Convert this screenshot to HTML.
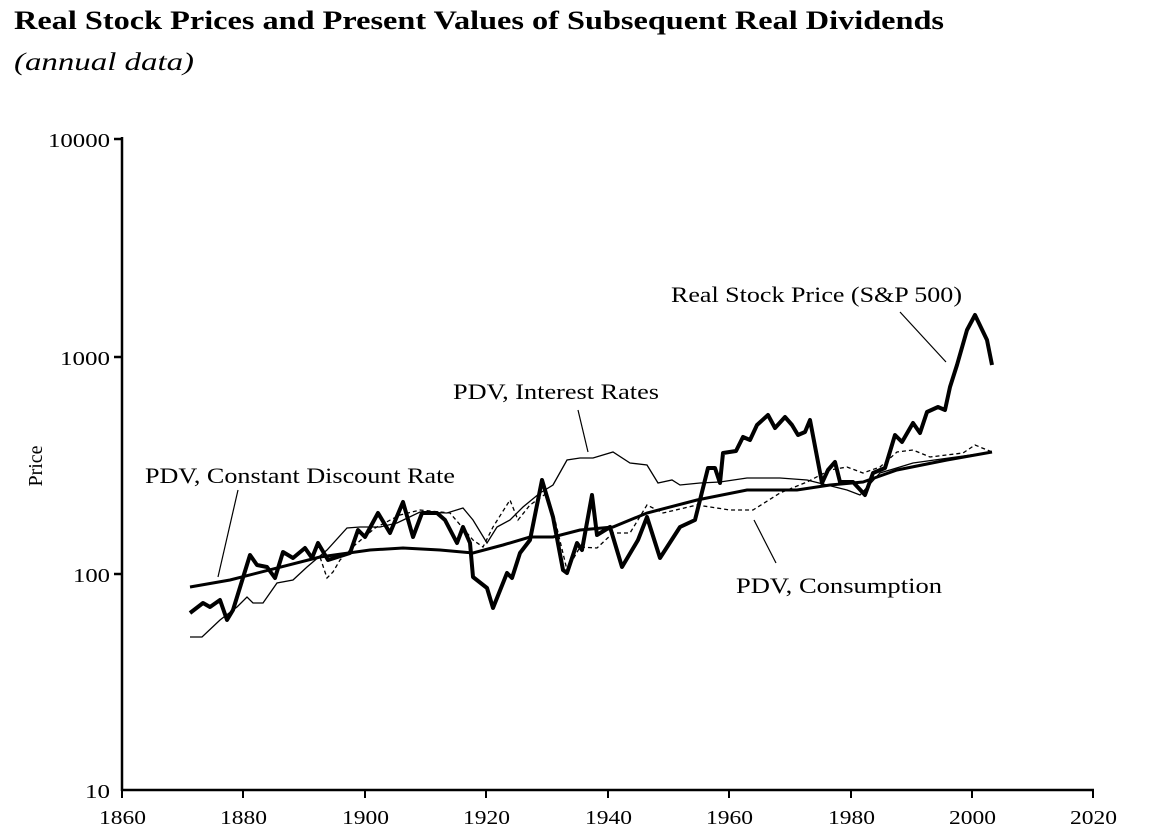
<!DOCTYPE html>
<html><head><meta charset="utf-8"><style>
body{margin:0;background:#fff;}
svg{display:block;font-family:"Liberation Serif",serif;}
</style></head><body>
<svg width="1152" height="840" viewBox="0 0 1152 840">
<text x="14" y="29" font-size="26" font-weight="bold" textLength="930" lengthAdjust="spacingAndGlyphs">Real Stock Prices and Present Values of Subsequent Real Dividends</text>
<text x="14" y="70" font-size="25" font-style="italic" textLength="180" lengthAdjust="spacingAndGlyphs">(annual data)</text>
<g stroke="#000" stroke-width="2.5" fill="none">
<line x1="122" y1="137" x2="122" y2="791"/>
<line x1="121" y1="790" x2="1094" y2="790"/>
<line x1="114" y1="139" x2="122" y2="139"/><line x1="114" y1="357" x2="122" y2="357"/><line x1="114" y1="574" x2="122" y2="574"/>
</g>
<g stroke="#000" stroke-width="2">
<line x1="243" y1="790" x2="243" y2="798"/><line x1="365" y1="790" x2="365" y2="798"/><line x1="486" y1="790" x2="486" y2="798"/><line x1="608" y1="790" x2="608" y2="798"/><line x1="729" y1="790" x2="729" y2="798"/><line x1="851" y1="790" x2="851" y2="798"/><line x1="972" y1="790" x2="972" y2="798"/><line x1="1093" y1="790" x2="1093" y2="798"/><line x1="122" y1="790" x2="122" y2="798"/>
</g>
<g font-size="20" lengthAdjust="spacingAndGlyphs">
<text x="48" y="147" textLength="62" lengthAdjust="spacingAndGlyphs">10000</text>
<text x="60" y="365" textLength="50" lengthAdjust="spacingAndGlyphs">1000</text>
<text x="73" y="582" textLength="37" lengthAdjust="spacingAndGlyphs">100</text>
<text x="85" y="798" textLength="25" lengthAdjust="spacingAndGlyphs">10</text>
</g>
<g font-size="20">
<text x="99" y="824" textLength="47" lengthAdjust="spacingAndGlyphs">1860</text>
<text x="220" y="824" textLength="47" lengthAdjust="spacingAndGlyphs">1880</text>
<text x="342" y="824" textLength="47" lengthAdjust="spacingAndGlyphs">1900</text>
<text x="463" y="824" textLength="47" lengthAdjust="spacingAndGlyphs">1920</text>
<text x="585" y="824" textLength="47" lengthAdjust="spacingAndGlyphs">1940</text>
<text x="706" y="824" textLength="47" lengthAdjust="spacingAndGlyphs">1960</text>
<text x="828" y="824" textLength="47" lengthAdjust="spacingAndGlyphs">1980</text>
<text x="949" y="824" textLength="47" lengthAdjust="spacingAndGlyphs">2000</text>
<text x="1070" y="824" textLength="47" lengthAdjust="spacingAndGlyphs">2020</text>
</g>
<text transform="translate(42,466) rotate(-90)" font-size="20" text-anchor="middle">Price</text>
<g font-size="22">
<text x="671" y="302" textLength="291" lengthAdjust="spacingAndGlyphs">Real Stock Price (S&amp;P 500)</text>
<text x="453" y="399" textLength="206" lengthAdjust="spacingAndGlyphs">PDV, Interest Rates</text>
<text x="145" y="483" textLength="310" lengthAdjust="spacingAndGlyphs">PDV, Constant Discount Rate</text>
<text x="736" y="593" textLength="206" lengthAdjust="spacingAndGlyphs">PDV, Consumption</text>
</g>
<g stroke="#000" stroke-width="1.2" fill="none">
<line x1="900" y1="312" x2="946" y2="362"/>
<line x1="578" y1="410" x2="588" y2="452"/>
<line x1="238" y1="490" x2="218" y2="577"/>
<line x1="754" y1="520" x2="776" y2="563"/>
</g>
<polyline fill="none" stroke="#000" stroke-width="1.3" points="190,637 202,637 220,620 237,607 247,597 253,603 263,603 277,583 293,580 307,567 327,550 347,528 360,527 380,527 397,523 420,512 447,513 463,508 473,520 487,543 497,527 510,520 523,507 540,493 553,485 567,460 580,458 593,458 613,452 630,463 647,465 658,483 672,480 680,485 700,483 720,482 747,478 780,478 807,480 827,485 847,490 860,495 880,473 913,463 992,452"/>
<polyline fill="none" stroke="#000" stroke-width="1.3" stroke-dasharray="4,3" points="300,562 320,557 327,578 333,572 340,560 355,545 375,528 400,515 420,510 450,513 473,540 483,547 493,527 510,500 518,520 530,505 547,493 555,520 567,570 580,547 597,548 613,533 630,533 647,505 663,513 697,505 730,510 753,510 780,493 807,482 830,470 847,467 863,473 880,467 897,452 913,450 930,457 963,453 975,445 992,452"/>
<polyline fill="none" stroke="#000" stroke-width="3" points="190,587 230,580 320,557 370,550 403,548 440,550 473,553 503,545 530,537 553,537 580,530 613,527 647,513 697,500 747,490 797,490 830,485 863,482 897,470 947,460 992,452"/>
<polyline fill="none" stroke="#000" stroke-width="4" stroke-linejoin="round" points="190,613 203,603 210,607 220,600 227,620 233,610 250,555 257,565 267,567 275,578 283,552 293,558 305,548 312,558 318,543 328,560 350,553 358,530 365,537 378,513 390,533 403,502 413,537 422,513 437,513 445,520 457,543 463,527 470,543 473,577 487,588 493,608 507,573 512,578 520,553 530,540 542,480 553,517 563,570 567,573 577,543 582,550 592,495 597,535 610,527 622,567 638,540 647,517 660,558 680,527 695,520 708,468 715,468 720,483 723,453 736,451 743,437 750,440 757,425 768,415 775,428 785,417 792,425 798,435 805,432 810,420 822,483 828,470 835,462 840,482 853,482 865,495 873,473 885,468 895,435 902,442 913,423 920,433 927,412 938,407 945,410 950,387 957,365 967,330 975,315 987,340 992,365"/>
</svg>
</body></html>
